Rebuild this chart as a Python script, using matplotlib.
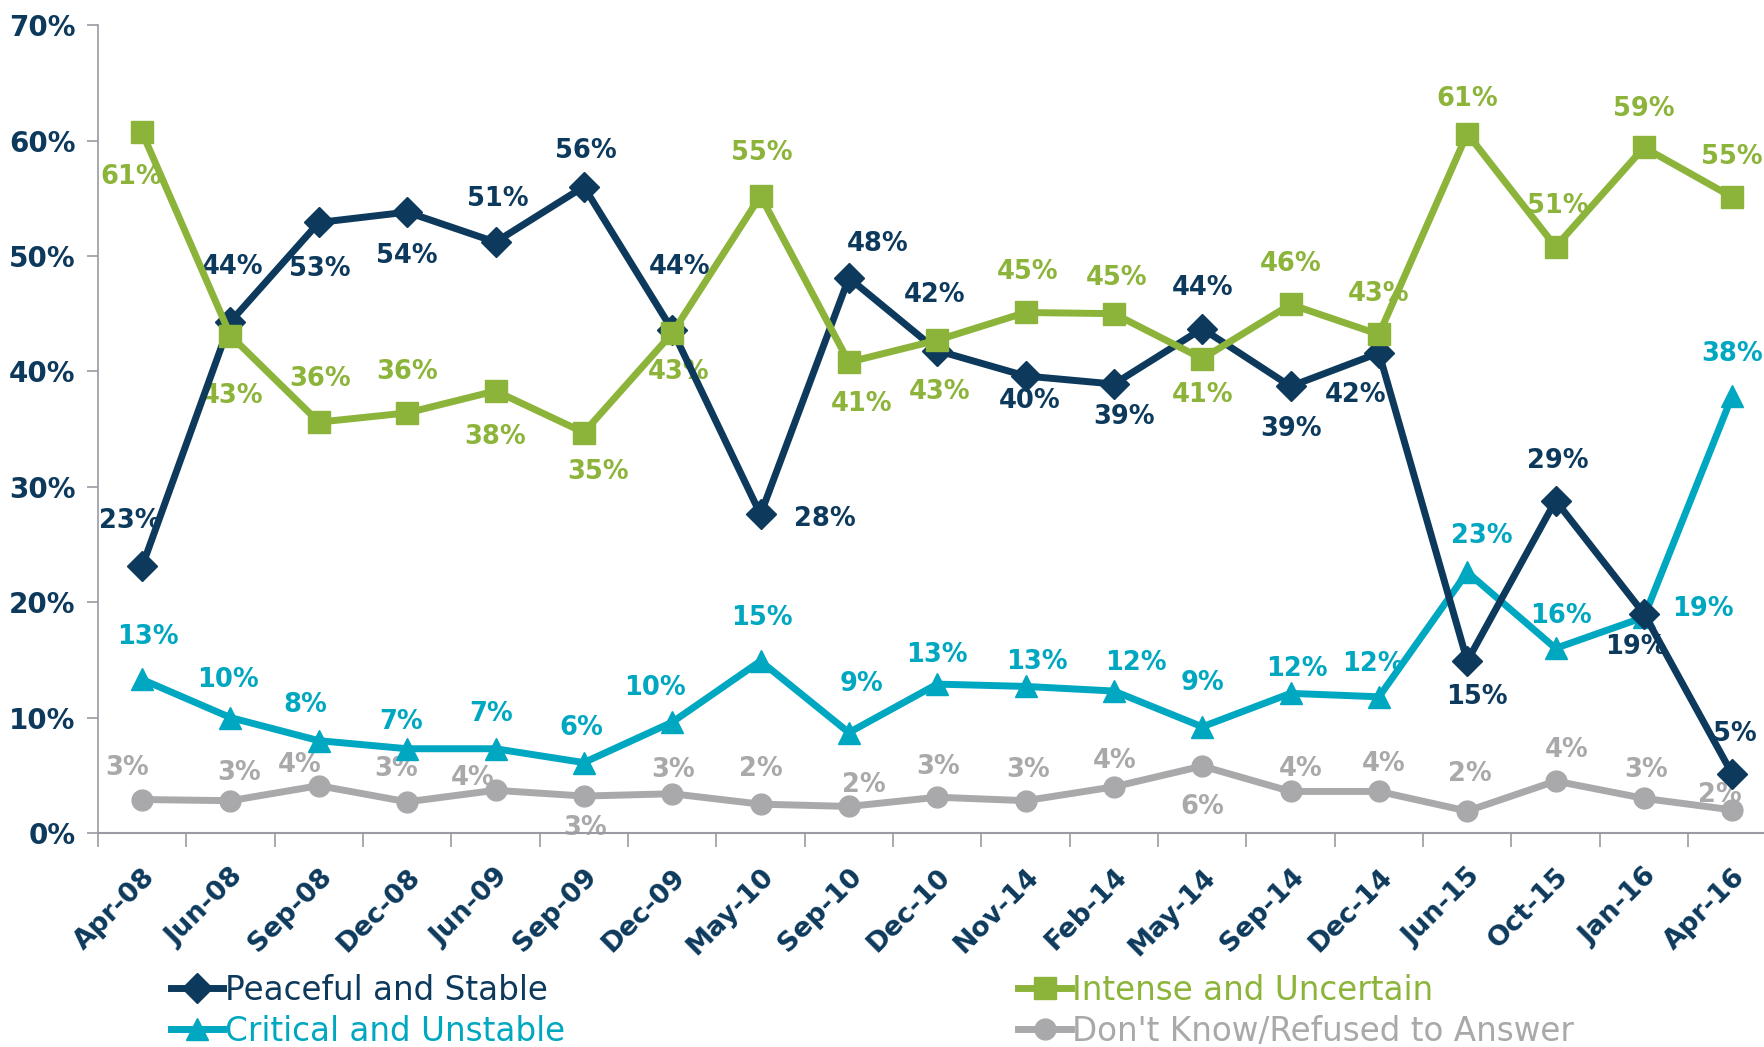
import matplotlib.pyplot as plt
import numpy as np

plt.rcParams['font.family'] = ['DejaVu Sans']

# survey waves
waves = ['Apr-08', 'Jun-08', 'Sep-08', 'Dec-08', 'Jun-09', 'Sep-09', 'Dec-09',
         'May-10', 'Sep-10', 'Dec-10', 'Nov-14', 'Feb-14', 'May-14', 'Sep-14',
         'Dec-14', 'Jun-15', 'Oct-15', 'Jan-16', 'Apr-16']

# percentages
peaceful = [23.1, 44.3, 52.9, 53.8, 51.2, 56.0, 43.6, 27.6, 48.1, 41.8,
            39.6, 38.9, 43.7, 38.7, 41.6, 14.9, 28.8, 19.0, 5.1]
intense = [60.7, 43.1, 35.6, 36.4, 38.3, 34.7, 43.3, 55.2, 40.8, 42.7,
           45.1, 45.0, 41.1, 45.8, 43.2, 60.6, 50.8, 59.4, 55.1]
critical = [13.3, 10.0, 8.0, 7.3, 7.3, 6.1, 9.6, 14.9, 8.7, 12.9,
            12.7, 12.3, 9.2, 12.1, 11.8, 22.6, 16.0, 18.7, 37.9]
dont_know = [2.9, 2.8, 4.1, 2.7, 3.7, 3.2, 3.4, 2.5, 2.3, 3.1,
             2.8, 4.0, 5.8, 3.6, 3.6, 1.9, 4.5, 3.0, 2.0]

# label offsets (dx, dy) in reference pixels, y down
off_peaceful = [(-11, -40), (2, -49), (1, 41), (0, 39), (2, -38), (2, -32), (7, -56),
                (57, 4), (26, -30), (-2, -49), (4, 22), (9, 29), (0, -36), (0, 38),
                (-21, 37), (9, 32), (2, -35), (-7, 30), (2, -36)]
off_intense = [(-10, 40), (2, 54), (1, -38), (0, -36), (0, 41), (13, 35), (6, 34),
               (1, -38), (11, 37), (2, 46), (2, -36), (2, -32), (0, 32), (0, -36),
               (0, -36), (0, -31), (2, -36), (0, -34), (0, -36)]
off_critical = [(5, -38), (-2, -33), (-12, -32), (-5, -24), (-4, -31), (-2, -31), (-15, -30),
                (1, -38), (11, -43), (0, -26), (10, -22), (20, -25), (0, -39), (6, -22),
                (-5, -29), (13, -32), (5, -29), (52, -7), (0, -37)]
off_dk = [(-13, -28), (8, -25), (-17, -18), (-10, -29), (-20, -11), (1, 28), (1, -21),
          (0, -31), (13, -19), (1, -27), (2, -27), (1, -23), (0, 36), (9, -20),
          (4, -24), (2, -33), (10, -28), (2, -25), (-11, -13)]

navy = '#0d3a5c'
green = '#8db43a'
teal = '#00a7c1'
gray = '#a9a9ab'
axis_gray = '#9a9aa2'

fig = plt.figure(figsize=(17.65, 10.47), dpi=100)
ax = fig.add_axes([0.0555, 0.2044, 0.951, 0.7716])

x = np.arange(len(waves))
series = [
    ('Peaceful and Stable', peaceful, navy, 'D', 15, off_peaceful, 3),
    ('Intense and Uncertain', intense, green, 's', 16, off_intense, 4),
    ('Critical and Unstable', critical, teal, '^', 16, off_critical, 2),
    ("Don't Know/Refused to Answer", dont_know, gray, 'o', 15, off_dk, 1),
]
handles = {}
k = 0.8105  # reference px -> points
for name, vals, col, mk, ms, offs, z in series:
    h, = ax.plot(x, vals, color=col, lw=5, marker=mk, markersize=ms,
                 label=name, zorder=z + 2, clip_on=False)
    handles[name] = h
    for xi, v, (dx, dy) in zip(x, vals, offs):
        ax.annotate(f'{round(v)}%', (xi, v), xytext=(dx * k, -dy * k),
                    textcoords='offset points', ha='center', va='center',
                    fontsize=18.5, fontweight='bold', color=col, zorder=1,
                    annotation_clip=False)

ax.set_xlim(-0.5, len(waves) - 0.5)
ax.set_ylim(0, 70)
ax.set_yticks(np.arange(0, 71, 10))
ax.set_yticklabels([f'{t}%' for t in range(0, 71, 10)])
ax.set_xticks(x)
ax.set_xticklabels(waves, rotation=45, ha='right', rotation_mode='anchor')
ax.set_xticks(np.arange(-0.5, len(waves), 1), minor=True)
ax.tick_params(axis='x', which='major', length=0, pad=22)
ax.tick_params(axis='x', which='minor', length=10, color=axis_gray, width=1.2)
ax.tick_params(axis='y', length=8, color=axis_gray, width=1.2, pad=8)
for lab in ax.get_xticklabels():
    lab.set_fontsize(19.5)
    lab.set_fontweight('bold')
    lab.set_color(navy)
for lab in ax.get_yticklabels():
    lab.set_fontsize(20)
    lab.set_fontweight('bold')
    lab.set_color(navy)

for s in ['top', 'right']:
    ax.spines[s].set_visible(False)
ax.spines['left'].set_color(axis_gray)
ax.spines['bottom'].set_color(axis_gray)
ax.spines['left'].set_linewidth(1.2)
ax.spines['bottom'].set_linewidth(1.5)

leg_kw = dict(loc='upper left', frameon=False, fontsize=23.5, handlelength=1.6,
              handletextpad=0.05, borderpad=0, borderaxespad=0, labelspacing=0.25)
leg1 = fig.legend([handles['Peaceful and Stable'], handles['Critical and Unstable']],
                  ['Peaceful and Stable', 'Critical and Unstable'],
                  bbox_to_anchor=(0.097, 0.070), labelcolor=[navy, teal], **leg_kw)
leg2 = fig.legend([handles['Intense and Uncertain'], handles["Don't Know/Refused to Answer"]],
                  ['Intense and Uncertain', "Don't Know/Refused to Answer"],
                  bbox_to_anchor=(0.577, 0.070), labelcolor=[green, gray], **leg_kw)

plt.savefig('out.png')
